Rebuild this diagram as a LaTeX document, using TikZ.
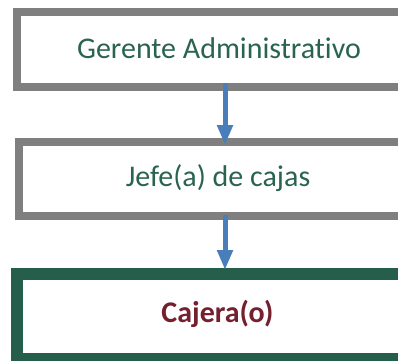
\documentclass[tikz,border=0pt]{standalone}
\usepackage{fontspec}
\setmainfont{Carlito}[Ligatures=NoCommon]
\usetikzlibrary{arrows.meta}
\definecolor{boxgray}{HTML}{7F7F7F}
\definecolor{boxgreen}{HTML}{265E4C}
\definecolor{txtgreen}{HTML}{2A6450}
\definecolor{txtred}{HTML}{74202E}
\definecolor{arrblue}{HTML}{4A7EBB}
\tikzset{
  boxbase/.style={rectangle, draw, outer sep=0pt, inner sep=0pt, anchor=north west, fill=white},
  graybox/.style={boxbase, draw=boxgray, line width=8pt},
  greenbox/.style={boxbase, draw=boxgreen, line width=12pt},
  lbl/.style={anchor=base, inner sep=0pt, font=\fontsize{30}{34}\selectfont, text=txtgreen},
  lblbold/.style={lbl, font=\fontsize{30}{34}\selectfont\bfseries, text=txtred},
  arr/.style={draw=arrblue, line width=5pt, -{Triangle[width=15pt,length=20pt]}}
}
\begin{document}
\begin{tikzpicture}[x=1pt,y=-1pt]
\useasboundingbox (0,0) rectangle (398,360);
\clip (0,0) rectangle (398,360);
\node[graybox, minimum width=600pt, minimum height=75pt] (b1) at (17,12) {};
\node[graybox, minimum width=600pt, minimum height=74pt] (b2) at (19,142) {};
\node[greenbox, minimum width=600pt, minimum height=85pt] (b3) at (17,274) {};
\node[lbl] (t1) at (219,58) {Gerente Administrativo};
\node[lbl] (t2) at (218,186) {Jefe(a) de cajas};
\node[lblbold] (t3) at (217.5,322) {Cajera(o)};
\coordinate (ax) at (225,0);
\draw[arr, shorten <=-4pt, shorten >=-3pt] (b1.south -| ax) -- (b2.north -| ax);
\draw[arr, shorten <=-1pt, shorten >=4pt] (b2.south -| ax) -- (b3.north -| ax);
\end{tikzpicture}
\end{document}
